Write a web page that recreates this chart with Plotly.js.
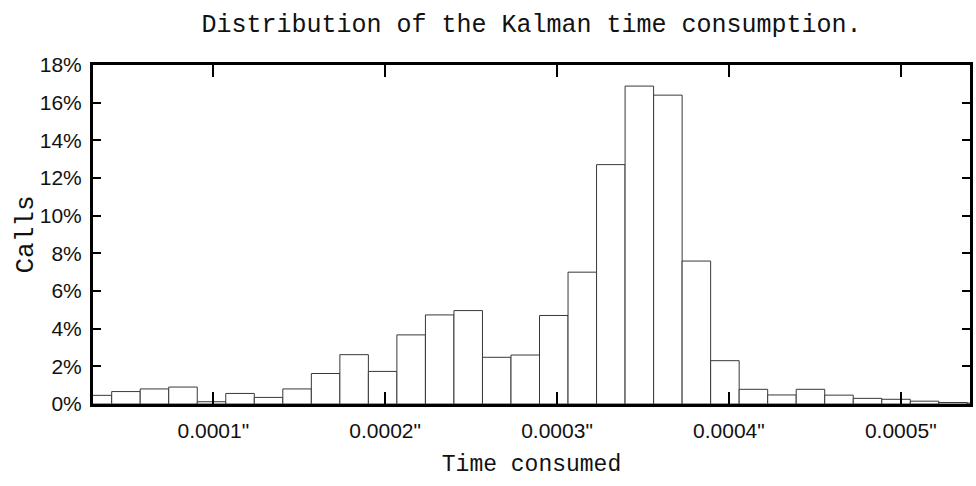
<!DOCTYPE html>
<html>
<head>
<meta charset="utf-8">
<script src="https://cdn.plot.ly/plotly-3.0.1.min.js"></script>
<style>
  html, body { margin: 0; padding: 0; background: #ffffff; }
  #chart { width: 976px; height: 486px; }
</style>
</head>
<body>
<div id="chart"></div>
<script>
// Bin centres (seconds) of the histogram
const binCenters = [
  3.258e-5, 4.918e-5, 6.577e-5, 8.237e-5, 9.896e-5, 1.1556e-4, 1.3216e-4, 1.4875e-4,
  1.6535e-4, 1.8194e-4, 1.9854e-4, 2.1513e-4, 2.3173e-4, 2.4833e-4, 2.6492e-4, 2.8152e-4,
  2.9811e-4, 3.1471e-4, 3.3130e-4, 3.4790e-4, 3.6450e-4, 3.8109e-4, 3.9769e-4, 4.1428e-4,
  4.3088e-4, 4.4747e-4, 4.6407e-4, 4.8067e-4, 4.9726e-4, 5.1386e-4, 5.3045e-4, 5.4705e-4
];
const binWidth = 1.6596e-5;
// Share of calls per bin (%)
const callsPct = [
  0.46, 0.66, 0.80, 0.90, 0.12, 0.56, 0.35, 0.80,
  1.62, 2.62, 1.73, 3.67, 4.73, 4.96, 2.48, 2.60,
  4.70, 7.00, 12.71, 16.88, 16.40, 7.59, 2.30, 0.78,
  0.48, 0.78, 0.47, 0.30, 0.25, 0.15, 0.08, 0.05
];
const xTickVals = [0.0001, 0.0002, 0.0003, 0.0004, 0.0005];
const xTickText = ['0.0001"', '0.0002"', '0.0003"', '0.0004"', '0.0005"'];
const yTickVals = [0, 2, 4, 6, 8, 10, 12, 14, 16, 18];
const yTickText = ['0%', '2%', '4%', '6%', '8%', '10%', '12%', '14%', '16%', '18%'];

const monoFont = 'Liberation Mono, DejaVu Sans Mono, monospace';
const tickFont = 'Liberation Sans Narrow, Liberation Sans, Arial, sans-serif';

const trace = {
  type: 'bar',
  x: binCenters,
  y: callsPct,
  width: binCenters.map(() => binWidth),
  marker: { color: '#ffffff', line: { color: '#383838', width: 1 } },
  hoverinfo: 'x+y'
};

const layout = {
  width: 976,
  height: 486,
  margin: { l: 93, r: 6, t: 65, b: 82, pad: 0 },
  paper_bgcolor: '#ffffff',
  plot_bgcolor: '#ffffff',
  showlegend: false,
  bargap: 0,
  title: {
    text: 'Distribution of the Kalman time consumption.',
    font: { family: monoFont, size: 25, color: '#111111' },
    x: 0.5, xref: 'paper', xanchor: 'center',
    y: 1 - 23 / 486, yref: 'container', yanchor: 'middle'
  },
  xaxis: {
    range: [3.0e-5, 5.403e-4],
    tickmode: 'array',
    tickvals: xTickVals,
    ticktext: xTickText,
    ticks: 'inside',
    ticklen: 12,
    tickwidth: 2,
    tickcolor: '#000000',
    showline: true,
    linecolor: '#000000',
    linewidth: 3,
    mirror: 'ticks',
    showgrid: false,
    zeroline: false,
    ticklabelstandoff: 6,
    tickfont: { family: tickFont, size: 21, color: '#111111' },
    title: {
      text: 'Time consumed',
      font: { family: monoFont, size: 23, color: '#111111' },
      standoff: 14
    },
    automargin: false
  },
  yaxis: {
    range: [0, 18],
    tickmode: 'array',
    tickvals: yTickVals,
    ticktext: yTickText,
    ticks: 'inside',
    ticklen: 8,
    tickwidth: 2,
    tickcolor: '#000000',
    showline: true,
    linecolor: '#000000',
    linewidth: 3,
    mirror: 'ticks',
    showgrid: false,
    zeroline: false,
    ticklabelstandoff: 4,
    tickfont: { family: tickFont, size: 21, color: '#111111' },
    automargin: false
  },
  annotations: [{
    text: 'Calls',
    xref: 'paper', yref: 'paper',
    x: (25 - 93) / 877, y: 0.5,
    xanchor: 'center', yanchor: 'middle',
    textangle: -90,
    showarrow: false,
    font: { family: monoFont, size: 26, color: '#111111' }
  }]
};

Plotly.newPlot('chart', [trace], layout, { staticPlot: true, displayModeBar: false });
</script>
</body>
</html>
